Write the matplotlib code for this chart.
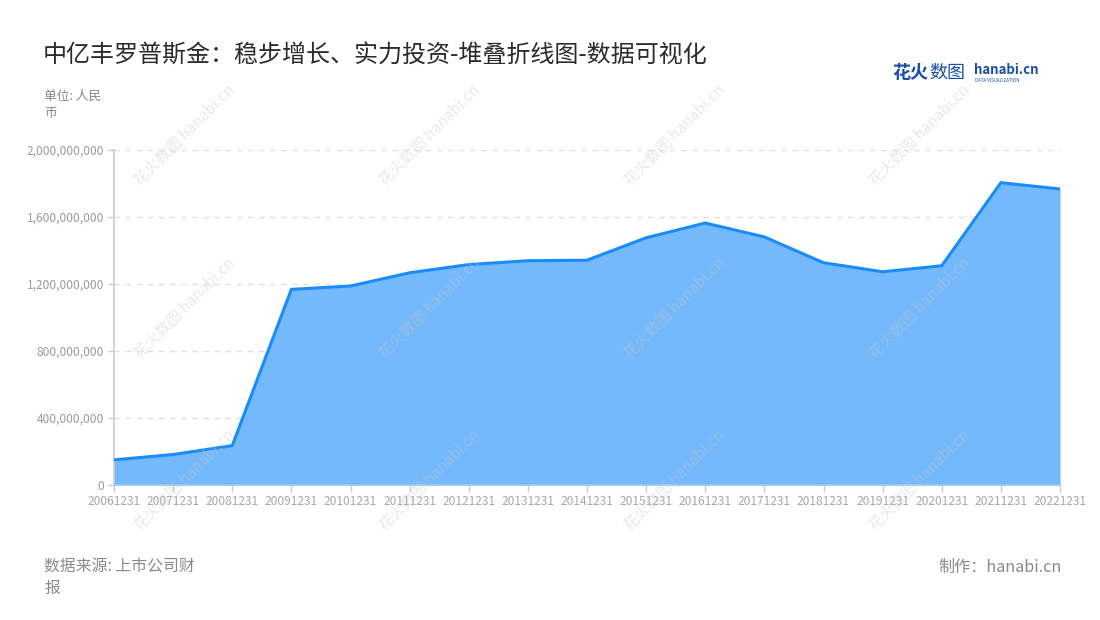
import matplotlib
matplotlib.use("Agg")
import matplotlib.pyplot as plt
from matplotlib.ticker import FuncFormatter, MultipleLocator

plt.rcParams['font.family'] = ['Noto Sans CJK SC', 'DejaVu Sans']

# ---- data ----
years = ["20061231", "20071231", "20081231", "20091231", "20101231", "20111231",
         "20121231", "20131231", "20141231", "20151231", "20161231", "20171231",
         "20181231", "20191231", "20201231", "20211231", "20221231"]
values = [150e6, 182e6, 235e6, 1168e6, 1188e6, 1267e6,
          1316e6, 1339e6, 1342e6, 1476e6, 1564e6, 1481e6,
          1327e6, 1273e6, 1309e6, 1805e6, 1767e6]

title = "中亿丰罗普斯金：稳步增长、实力投资-堆叠折线图-数据可视化"
unit_lines = ["单位: 人民", "币"]
source_lines = ["数据来源: 上市公司财", "报"]
credit = "制作：hanabi.cn"

W, H = 1100, 620
fig = plt.figure(figsize=(11, 6.2), dpi=100)
fig.patch.set_facecolor('white')

def px(x, y):
    return x / W, 1 - y / H

ax = fig.add_axes([114 / W, 1 - 485 / H, (1060 - 114) / W, (485 - 150) / H])
x = list(range(len(years)))
ax.fill_between(x, values, 0, color='#74b9fc', linewidth=0, zorder=2)
ax.plot(x, values, color='#1a8cfa', linewidth=2.2, zorder=3, solid_joinstyle='round')

ax.set_xlim(0, len(years) - 1)
ax.set_ylim(0, 2e9)
ax.yaxis.set_major_locator(MultipleLocator(4e8))
ax.yaxis.set_major_formatter(FuncFormatter(lambda v, p: f"{int(v):,}"))
ax.set_xticks(x)
ax.set_xticklabels(years)

ax.grid(axis='y', color='#e0e0e0', linestyle=(0, (4, 4)), linewidth=1, zorder=1)
ax.set_axisbelow(True)
for s in ['top', 'right']:
    ax.spines[s].set_visible(False)
ax.spines['left'].set_color('#cccccc')
ax.spines['left'].set_linewidth(1.2)
ax.spines['bottom'].set_color('#9cc9f5')
ax.spines['bottom'].set_linewidth(1.2)
ax.tick_params(axis='y', colors='#cccccc', labelcolor='#9a9a9a', labelsize=8.6,
               length=4, width=1, pad=3)
ax.tick_params(axis='x', colors='#cccccc', labelcolor='#a6a6b0', labelsize=8.6,
               length=5, width=1, pad=2)

# ---- texts ----
fig.text(*px(43, 56), title, fontsize=17.3, color='#2b2b2b', va='center', ha='left')
for i, t in enumerate(unit_lines):
    fig.text(*px(44, 96 + 17 * i), t, fontsize=9.2, color='#888888', va='center', ha='left')
for i, t in enumerate(source_lines):
    fig.text(*px(44, 567 + 21 * i), t, fontsize=11.4, color='#8a8a8a', va='center', ha='left')
fig.text(*px(1062, 567), credit, fontsize=11.6, color='#8a8a8a', va='center', ha='right')

# logo
fig.text(*px(892, 73), "花火", fontsize=13, color='#1a4ea8', fontweight='bold',
         va='center', ha='left')
fig.text(*px(929, 73), "数图", fontsize=13, color='#1a4ea8', va='center', ha='left')
fig.text(*px(974, 70), "hanabi.cn", fontsize=9.5, color='#1a4ea8', fontweight='bold',
         va='center', ha='left')
fig.text(*px(975, 80), "DATA VISUALIZATION", fontsize=3.2, color='#1a4ea8',
         va='center', ha='left')

# watermarks
for cy in [135, 308, 480]:
    for cx in [185, 430, 675, 920]:
        fig.text(*px(cx, cy), "花火数图 hanabi.cn", fontsize=11, color='#c8c8c8',
                 alpha=0.4, rotation=45, ha='center', va='center', zorder=10)

fig.savefig("out.png", dpi=100, facecolor='white')
